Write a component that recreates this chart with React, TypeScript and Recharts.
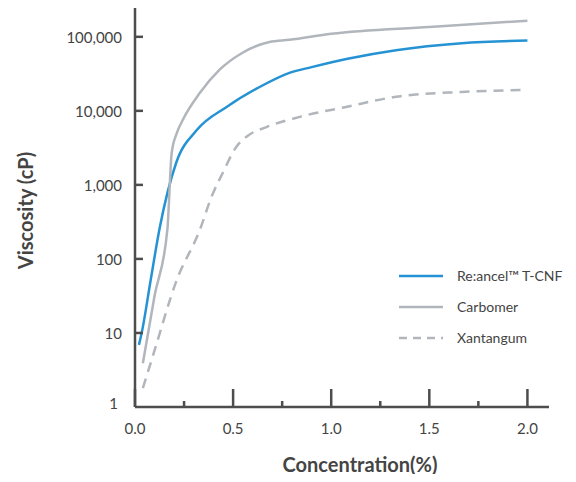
import { Line, LineChart, XAxis, YAxis } from 'recharts';

// concentration (%) vs viscosity (cP)
const reancelData = [
    { x: 0.02, y: 6.9 },
    { x: 0.035, y: 10.3 },
    { x: 0.08, y: 52 },
    { x: 0.126, y: 263 },
    { x: 0.21, y: 1990 },
    { x: 0.315, y: 5500 },
    { x: 0.467, y: 11300 },
    { x: 0.635, y: 21000 },
    { x: 0.787, y: 32600 },
    { x: 0.9, y: 39000 },
    { x: 1.09, y: 51000 },
    { x: 1.33, y: 66000 },
    { x: 1.665, y: 82000 },
    { x: 2.0, y: 89000 },
];

const carbomerData = [
    { x: 0.04, y: 3.9 },
    { x: 0.1, y: 32 },
    { x: 0.165, y: 250 },
    { x: 0.187, y: 2700 },
    { x: 0.213, y: 5000 },
    { x: 0.244, y: 7600 },
    { x: 0.33, y: 17400 },
    { x: 0.43, y: 35700 },
    { x: 0.548, y: 61000 },
    { x: 0.685, y: 85000 },
    { x: 0.787, y: 91000 },
    { x: 1.0, y: 110000 },
    { x: 1.5, y: 136000 },
    { x: 2.0, y: 165000 },
];

const xantanData = [
    { x: 0.04, y: 1.8 },
    { x: 0.09, y: 4.8 },
    { x: 0.213, y: 52 },
    { x: 0.33, y: 245 },
    { x: 0.39, y: 690 },
    { x: 0.447, y: 1450 },
    { x: 0.516, y: 3250 },
    { x: 0.568, y: 4470 },
    { x: 0.67, y: 6040 },
    { x: 0.84, y: 8300 },
    { x: 1.076, y: 11300 },
    { x: 1.33, y: 15500 },
    { x: 1.665, y: 18000 },
    { x: 2.0, y: 19200 },
];

const xTicks = [0, 0.25, 0.5, 0.75, 1.0, 1.25, 1.5, 1.75, 2.0];
const yTicks = [1, 10, 100, 1000, 10000, 100000];

const AXIS = '#4d4d4d';
const TEXT = '#444';
const BLUE = '#2593d3';
const GRAY = '#b1b6bc';
const FONT = 'Lato, "Open Sans", sans-serif';

const legendItems = [
    { name: 'Re:ancel™ T-CNF', color: BLUE, dash: undefined },
    { name: 'Carbomer', color: GRAY, dash: undefined },
    { name: 'Xantangum', color: GRAY, dash: '8 6' },
];

function XTick({ x, y, payload }: any) {
    const major = Math.abs(payload.value * 2 - Math.round(payload.value * 2)) < 1e-6;
    return (
        <g>
            <line x1={x} x2={x} y1={y} y2={y - (major ? 18 : 6)} stroke={AXIS} strokeWidth={2.5} />
            {major && (
                <text x={x} y={y + 21} textAnchor="middle" dominantBaseline="central" fill={TEXT} fontSize={15} fontFamily={FONT}>
                    {payload.value.toFixed(1)}
                </text>
            )}
        </g>
    );
}

function YTick({ x, y, payload }: any) {
    const isOne = payload.value === 1;
    return (
        <g>
            {!isOne && <line x1={x} x2={x + 8} y1={y} y2={y} stroke={AXIS} strokeWidth={2.5} />}
            <text x={isOne ? x - 17 : x - 13} y={isOne ? y - 4 : y} textAnchor="end" dominantBaseline="central" fill={TEXT} fontSize={15} fontFamily={FONT}>
                {payload.value.toLocaleString('en-US')}
            </text>
        </g>
    );
}

function LegendBox() {
    return (
        <div style={{ position: 'absolute', left: 391, top: 252, fontFamily: FONT, fontSize: 14, color: TEXT }}>
            {legendItems.map((item) => (
                <div key={item.name} style={{ display: 'flex', alignItems: 'center', height: 31 }}>
                    <svg width={44} height={4} style={{ marginRight: 14 }}>
                        <line x1={0} x2={44} y1={2} y2={2} stroke={item.color} strokeWidth={2.5} strokeDasharray={item.dash} />
                    </svg>
                    <span>{item.name}</span>
                </div>
            ))}
        </div>
    );
}

export default function App() {
    return (
        <div style={{ position: 'relative', width: 560, height: 466 }}>
            <LineChart width={560} height={474} margin={{ top: 0, right: 19, left: 0, bottom: 0 }}>
                <XAxis
                    type="number"
                    dataKey="x"
                    domain={[0, 2.11]}
                    ticks={xTicks}
                    allowDataOverflow
                    height={75}
                    tickLine={false}
                    tickSize={0}
                    tickMargin={0}
                    axisLine={{ stroke: AXIS, strokeWidth: 2.5 }}
                    tick={<XTick />}
                    interval={0}
                    label={(props: any) => {
                        const vb = props.viewBox;
                        return (
                            <text x={vb.x + vb.width / 2 + 18} y={vb.y + 57} textAnchor="middle" dominantBaseline="central" fill={TEXT} fontSize={20} fontWeight={700} fontFamily={FONT}>
                                Concentration(%)
                            </text>
                        );
                    }}
                />
                <YAxis
                    type="number"
                    dataKey="y"
                    scale="log"
                    domain={[1, 245000]}
                    ticks={yTicks}
                    allowDataOverflow
                    width={127}
                    tickLine={false}
                    tickSize={0}
                    tickMargin={0}
                    axisLine={{ stroke: AXIS, strokeWidth: 2.5 }}
                    tick={<YTick />}
                    interval={0}
                    label={(props: any) => {
                        const vb = props.viewBox;
                        const cy = vb.y + vb.height / 2 + 3;
                        return (
                            <text x={17} y={cy} transform={`rotate(-90, 17, ${cy})`} textAnchor="middle" dominantBaseline="central" fill={TEXT} fontSize={20} fontWeight={700} fontFamily={FONT}>
                                Viscosity (cP)
                            </text>
                        );
                    }}
                />
                <Line data={reancelData} dataKey="y" name="Re:ancel™ T-CNF" type="monotone" stroke={BLUE} strokeWidth={2.5} dot={false} isAnimationActive={false} />
                <Line data={carbomerData} dataKey="y" name="Carbomer" type="monotone" stroke={GRAY} strokeWidth={2.5} dot={false} isAnimationActive={false} />
                <Line data={xantanData} dataKey="y" name="Xantangum" type="monotone" stroke={GRAY} strokeWidth={2.5} strokeDasharray="10 7" dot={false} isAnimationActive={false} />
            </LineChart>
            <LegendBox />
        </div>
    );
}
